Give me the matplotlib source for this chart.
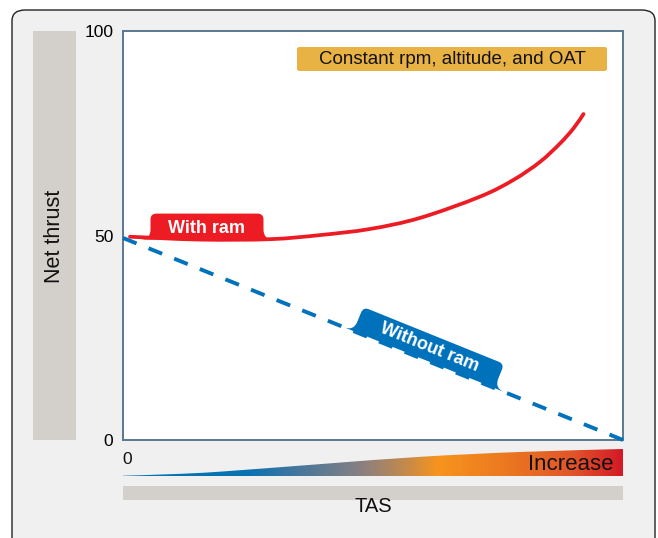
import numpy as np
import matplotlib
matplotlib.use("Agg")
import matplotlib.pyplot as plt
from matplotlib.patches import FancyBboxPatch, Rectangle, PathPatch
from matplotlib.path import Path
from matplotlib.transforms import Affine2D, ScaledTranslation
from matplotlib.colors import LinearSegmentedColormap

plt.rcParams['font.family'] = ['Liberation Sans', 'DejaVu Sans']
plt.rcParams['lines.scale_dashes'] = False

# ---------------- data ----------------
tas_with_ram = [1.4, 15.4, 29.4, 39.4, 49.4, 59.4, 71.4, 78.1, 83.4, 87.4, 90.1, 92.1]
thrust_with_ram = [49.7, 49.0, 49.1, 50.1, 51.6, 54.3, 59.5, 63.6, 68.0, 72.5, 76.2, 79.7]
tas_without_ram = [0, 100]
thrust_without_ram = [49.4, 0]
y_ticks = [0, 50, 100]
y_ticklabels = ["0", "50", "100"]
wedge_x = [0, 10, 19.4, 39.4, 59.4, 79.4, 100]
wedge_h = [0.01, 0.07, 0.16, 0.44, 0.71, 0.89, 1.0]

RED = '#ed1c24'
BLUE = '#0072bc'
GRAYBAR = '#d3d0cb'

W, H = 658, 538
fig = plt.figure(figsize=(W / 100, H / 100), dpi=100)
fig.patch.set_facecolor('white')


def fx(px):
    return px / W


def fy(py):
    return 1 - py / H


# outer rounded panel
fig.patches.append(FancyBboxPatch((fx(12), fy(560)), fx(655) - fx(12), fy(10) - fy(560),
                                  boxstyle="round,pad=0,rounding_size=0.02",
                                  transform=fig.transFigure, facecolor='#f0f0f0',
                                  edgecolor='#222222', linewidth=1.0, zorder=-2))
# left gray bar
fig.patches.append(Rectangle((fx(33), fy(440)), fx(76) - fx(33), fy(31) - fy(440),
                             transform=fig.transFigure, facecolor=GRAYBAR, edgecolor='none', zorder=-1))
fig.text(fx(55), fy(236), "Net thrust", rotation=90, ha='center', va='center', fontsize=15.5, color='#111111')
# bottom gray bar
fig.patches.append(Rectangle((fx(123), fy(500)), fx(623) - fx(123), fy(486) - fy(500),
                             transform=fig.transFigure, facecolor=GRAYBAR, edgecolor='none', zorder=-1))
fig.text(fx(373), fy(507), "TAS", ha='center', va='center', fontsize=14.5, color='#111111')

# ---------------- main axes ----------------
ax = fig.add_axes([fx(123), fy(440), fx(623) - fx(123), fy(31) - fy(440)])
ax.set_zorder(1)
ax.set_facecolor('white')
ax.set_xlim(0, 100)
ax.set_ylim(0, 100)
ax.set_xticks([])
ax.set_yticks(y_ticks)
ax.set_yticklabels(y_ticklabels, fontsize=12.5)
ax.tick_params(axis='y', length=0, pad=7)
for s in ax.spines.values():
    s.set_color('#5b7890')
    s.set_linewidth(1.4)

# dashed line: choose gap so a dash ends exactly at the line end
p0 = ax.transData.transform((tas_without_ram[0], thrust_without_ram[0]))
p1 = ax.transData.transform((tas_without_ram[1], thrust_without_ram[1]))
length_pt = np.hypot(*(p1 - p0)) * 72 / fig.dpi
dash_on = 10.5
period = (length_pt - dash_on) / 19
ax.plot(tas_without_ram, thrust_without_ram, color=BLUE, lw=2.8, dashes=(dash_on, period - dash_on),
        solid_capstyle='butt', dash_capstyle='butt', zorder=3, clip_on=False)


def smooth_path(xs, ys):
    pts = np.column_stack([xs, ys]).astype(float)
    ext = np.vstack([pts[0], pts, pts[-1]])
    verts = [tuple(pts[0])]
    codes = [Path.MOVETO]
    for i in range(1, len(ext) - 2):
        q0, q1, q2, q3 = ext[i - 1], ext[i], ext[i + 1], ext[i + 2]
        c1 = q1 + (q2 - q0) / 6.0
        c2 = q2 - (q3 - q1) / 6.0
        verts += [tuple(c1), tuple(c2), tuple(q2)]
        codes += [Path.CURVE4] * 3
    return Path(verts, codes)


ax.add_patch(PathPatch(smooth_path(tas_with_ram, thrust_with_ram), facecolor='none',
                       edgecolor=RED, lw=2.7, capstyle='round', zorder=3))


def tab_path(w, h, f, r):
    verts = [(-w / 2 - f, 0), (-w / 2, 0), (-w / 2, f),
             (-w / 2, h - r), (-w / 2, h), (-w / 2 + r, h),
             (w / 2 - r, h), (w / 2, h), (w / 2, h - r),
             (w / 2, f), (w / 2, 0), (w / 2 + f, 0),
             (-w / 2 - f, 0)]
    codes = [Path.MOVETO, Path.CURVE3, Path.CURVE3,
             Path.LINETO, Path.CURVE3, Path.CURVE3,
             Path.LINETO, Path.CURVE3, Path.CURVE3,
             Path.LINETO, Path.CURVE3, Path.CURVE3,
             Path.CLOSEPOLY]
    return Path(verts, codes)


def add_tab(xd, yd, angle, w, h, f, r, color, label, text_dy=0):
    trans = Affine2D().rotate_deg(angle) + ScaledTranslation(xd, yd, ax.transData)
    ax.add_patch(PathPatch(tab_path(w, h, f, r), facecolor=color, edgecolor='none',
                           transform=trans, zorder=4, clip_on=False))
    ax.text(0, h / 2 + text_dy, label, transform=trans, rotation=angle, rotation_mode='anchor',
            ha='center', va='center', color='white', fontsize=13, fontweight='bold', zorder=5)


# With ram tab (anchored on red curve)
add_tab(16.8, 49.0, 0, 113, 26, 10, 6, RED, "With ram", text_dy=-1.5)

# Without ram tab (anchored on the dashed line)
ang = np.degrees(np.arctan2(p1[1] - p0[1], p1[0] - p0[0]))
xt = 60.2
yt = np.interp(xt, tas_without_ram, thrust_without_ram)
add_tab(xt, yt, ang, 152, 26, 10, 6, BLUE, "Without ram", text_dy=0)

# condition box
fig.patches.append(FancyBboxPatch((fx(297), fy(71)), fx(607) - fx(297), fy(47) - fy(71),
                                  boxstyle="round,pad=0,rounding_size=0.004",
                                  transform=fig.transFigure, facecolor='#e9b244',
                                  edgecolor='none', zorder=5))
fig.text(fx(452), fy(59), "Constant rpm, altitude, and OAT", ha='center', va='center',
         fontsize=13.5, color='#111111', zorder=6)

# ---------------- gradient wedge ----------------
axg = fig.add_axes([fx(123), fy(476), fx(623) - fx(123), fy(449) - fy(476)])
axg.set_zorder(1)
axg.set_xlim(0, 100)
axg.set_ylim(0, 1)
axg.axis('off')
cmap = LinearSegmentedColormap.from_list('tas', [
    (0.0, '#0072b5'), (0.25, '#0a72b1'), (0.36, '#4c7799'), (0.47, '#857f84'),
    (0.56, '#c0894f'), (0.63, '#f7941d'), (0.76, '#ec7a20'), (0.9, '#e2552a'), (1.0, '#d31a26')])
grad = np.linspace(0, 1, 512).reshape(1, -1)
im = axg.imshow(grad, extent=[0, 100, 0, 1], aspect='auto', cmap=cmap, origin='lower')
top = smooth_path(wedge_x, wedge_h)
verts = list(top.vertices) + [(100, 0), (0, 0), (0, 0)]
codes = list(top.codes) + [Path.LINETO, Path.LINETO, Path.CLOSEPOLY]
clip = PathPatch(Path(verts, codes), transform=axg.transData, facecolor='none', edgecolor='none')
axg.add_patch(clip)
im.set_clip_path(clip)
fig.text(fx(127), fy(460), "0", ha='center', va='center', fontsize=12.5, color='#111111', zorder=6)
fig.text(fx(614), fy(465), "Increase", ha='right', va='center', fontsize=16, color='#111111', zorder=6)

fig.savefig('out.png', dpi=100, facecolor=fig.get_facecolor())
